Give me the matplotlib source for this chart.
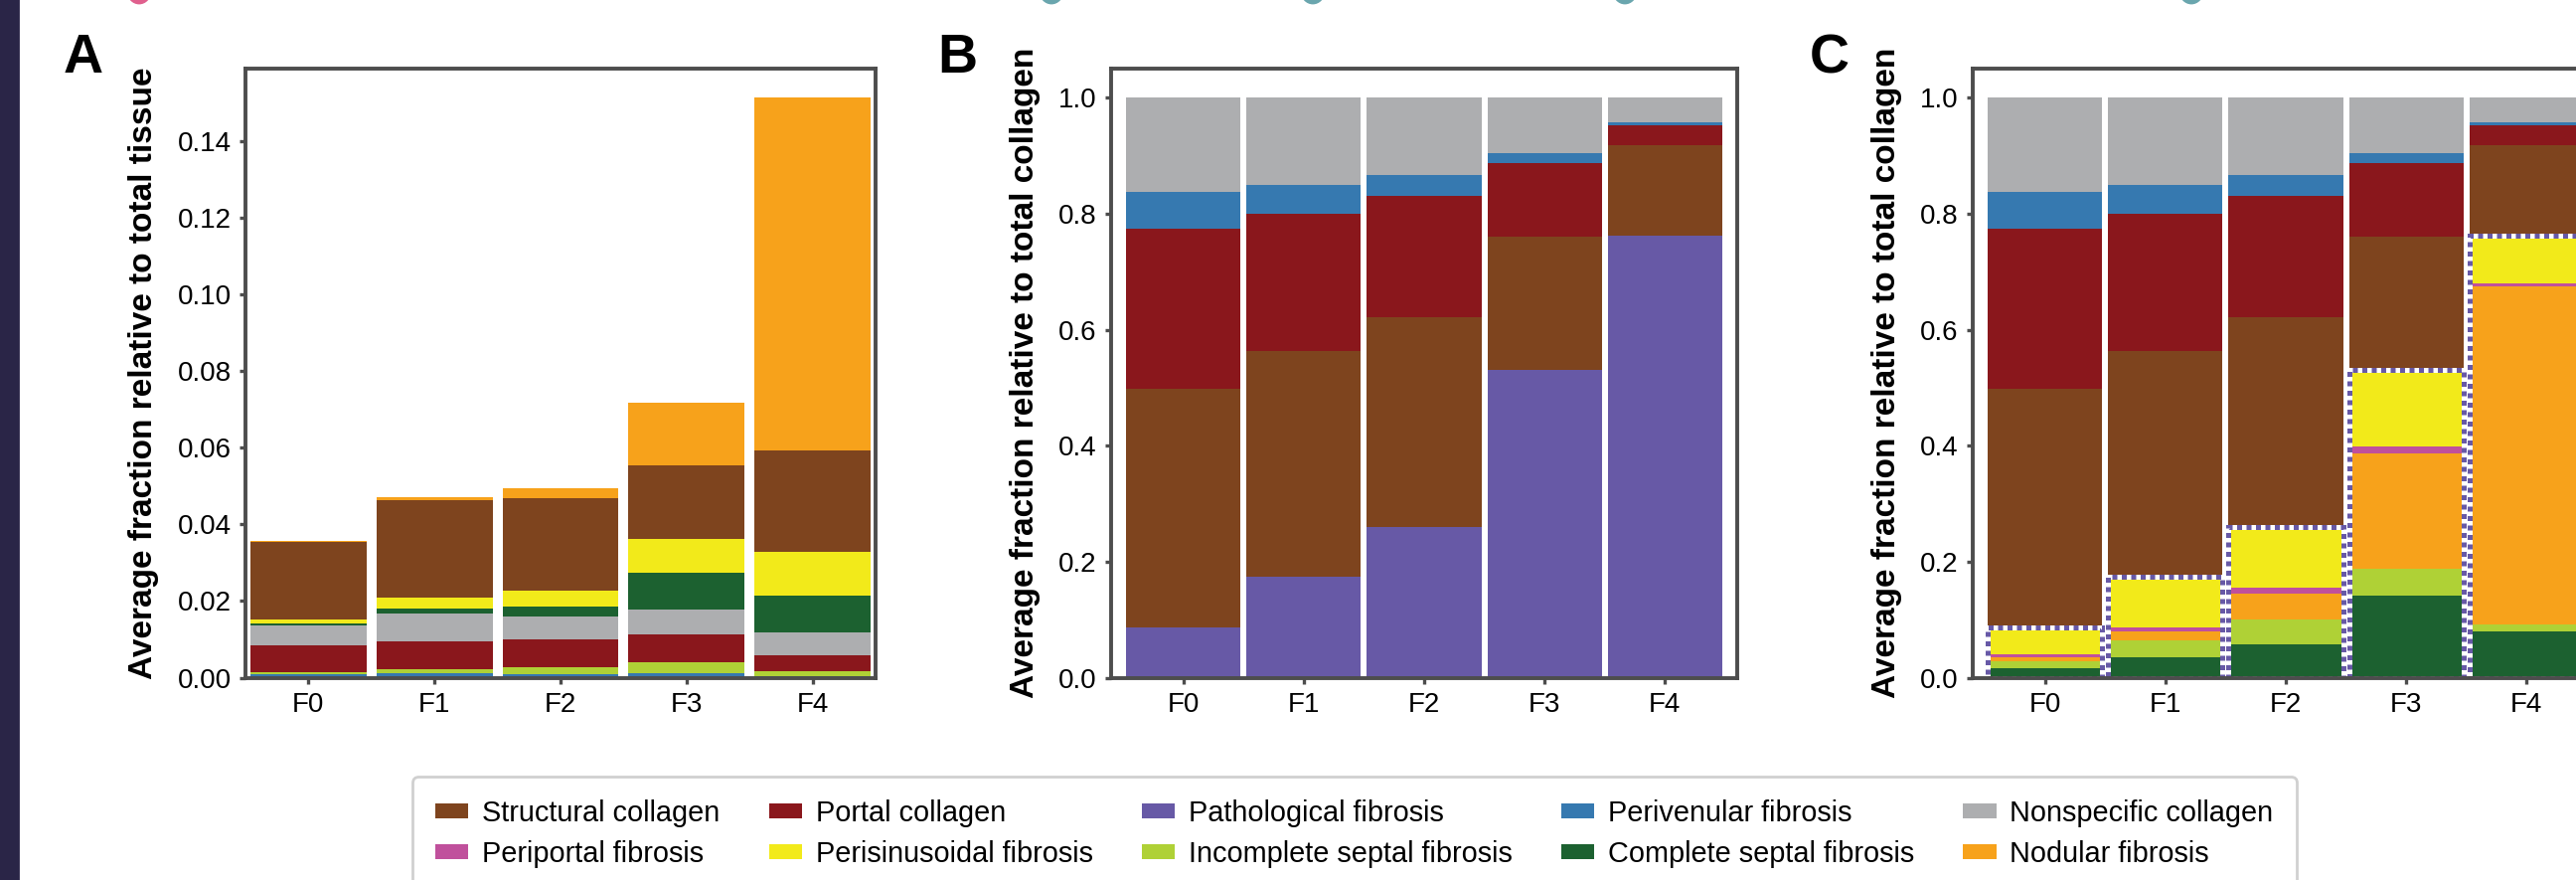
import numpy as np
import matplotlib
matplotlib.use('Agg')
import matplotlib.pyplot as plt
from matplotlib.patches import Patch, Rectangle, Ellipse
from matplotlib.ticker import FormatStrFormatter

plt.rcParams['font.family'] = ['Liberation Sans', 'DejaVu Sans']

# 数据
stages = ['F0', 'F1', 'F2', 'F3', 'F4']

# A: fraction of total tissue (segment heights, bottom to top)
a_perivenular = [0.0009, 0.0011, 0.0010, 0.0011, 0.0004]
a_incomplete = [0.0004, 0.0011, 0.0018, 0.0028, 0.0014]
a_portal = [0.0071, 0.0072, 0.0073, 0.0075, 0.0040]
a_nonspecific = [0.0052, 0.0074, 0.0059, 0.0065, 0.0059]
a_complete = [0.0005, 0.0013, 0.0026, 0.0095, 0.0096]
a_perisinusoidal = [0.0010, 0.0029, 0.0040, 0.0088, 0.0115]
a_structural = [0.0203, 0.0254, 0.0243, 0.0192, 0.0265]
a_nodular = [0.0004, 0.0006, 0.0026, 0.0165, 0.0922]

# B: fraction of total collagen
b_pathological = [0.087, 0.174, 0.259, 0.530, 0.762]
b_structural = [0.411, 0.389, 0.363, 0.230, 0.156]
b_portal = [0.276, 0.237, 0.209, 0.128, 0.035]
b_perivenular = [0.063, 0.050, 0.036, 0.017, 0.004]
b_nonspecific = [0.163, 0.150, 0.133, 0.095, 0.043]

# C: pathological fibrosis split up
c_complete = [0.017, 0.035, 0.058, 0.141, 0.080]
c_incomplete = [0.011, 0.030, 0.043, 0.046, 0.011]
c_nodular = [0.008, 0.015, 0.044, 0.200, 0.583]
c_periportal = [0.004, 0.007, 0.010, 0.012, 0.006]
c_perisinusoidal = [0.047, 0.087, 0.104, 0.131, 0.082]

colors = {
    'Structural collagen': '#7e441e',
    'Portal collagen': '#8a171c',
    'Pathological fibrosis': '#6759a6',
    'Perivenular fibrosis': '#3679b0',
    'Nonspecific collagen': '#adaeb0',
    'Periportal fibrosis': '#c0509c',
    'Perisinusoidal fibrosis': '#f2ea1a',
    'Incomplete septal fibrosis': '#afd136',
    'Complete septal fibrosis': '#1c6130',
    'Nodular fibrosis': '#f7a21b',
}

W, H = 2592, 885
fig = plt.figure(figsize=(W / 200, H / 200), dpi=200)

spine_col = '#4d4d4d'


def stack(ax, segs, width, bottom=None):
    x = np.arange(len(stages))
    if bottom is None:
        bottom = np.zeros(len(stages))
    bottom = np.array(bottom, dtype=float)
    for vals, name in segs:
        ax.bar(x, vals, width, bottom=bottom, color=colors[name], linewidth=0)
        bottom = bottom + np.array(vals)
    return bottom


def style(ax, ylabel, fmt):
    for s in ax.spines.values():
        s.set_color(spine_col)
        s.set_linewidth(1.4)
    ax.tick_params(axis='both', direction='out', length=2.2, width=1.2,
                   color=spine_col, labelsize=10, pad=3)
    ax.set_xticks(range(len(stages)))
    ax.set_xticklabels(stages)
    ax.yaxis.set_major_formatter(FormatStrFormatter(fmt))
    ax.set_ylabel(ylabel, fontsize=12, fontweight='bold', labelpad=6.5)


bottom_y = 1 - 681.5 / H
height = 612.5 / H
axA = fig.add_axes([247 / W, bottom_y, 634 / W, height])
axB = fig.add_axes([1118 / W, bottom_y, 630 / W, height])
axC = fig.add_axes([1985 / W, bottom_y, 630 / W, height])

# A
stack(axA, [(a_perivenular, 'Perivenular fibrosis'),
            (a_incomplete, 'Incomplete septal fibrosis'),
            (a_portal, 'Portal collagen'),
            (a_nonspecific, 'Nonspecific collagen'),
            (a_complete, 'Complete septal fibrosis'),
            (a_perisinusoidal, 'Perisinusoidal fibrosis'),
            (a_structural, 'Structural collagen'),
            (a_nodular, 'Nodular fibrosis')], 0.92)
axA.set_xlim(-0.5, 4.5)
axA.set_ylim(0, 0.159)
axA.set_yticks(np.arange(0, 0.141, 0.02))
style(axA, 'Average fraction relative to total tissue', '%.2f')

# B
stack(axB, [(b_pathological, 'Pathological fibrosis'),
            (b_structural, 'Structural collagen'),
            (b_portal, 'Portal collagen'),
            (b_perivenular, 'Perivenular fibrosis'),
            (b_nonspecific, 'Nonspecific collagen')], 0.95)
axB.set_xlim(-0.6, 4.6)
axB.set_ylim(0, 1.05)
axB.set_yticks(np.arange(0, 1.01, 0.2))
style(axB, 'Average fraction relative to total collagen', '%.1f')

# C
patho = stack(axC, [(c_complete, 'Complete septal fibrosis'),
                    (c_incomplete, 'Incomplete septal fibrosis'),
                    (c_nodular, 'Nodular fibrosis'),
                    (c_periportal, 'Periportal fibrosis'),
                    (c_perisinusoidal, 'Perisinusoidal fibrosis')], 0.95)
stack(axC, [(b_structural, 'Structural collagen'),
            (b_portal, 'Portal collagen'),
            (b_perivenular, 'Perivenular fibrosis'),
            (b_nonspecific, 'Nonspecific collagen')], 0.95, bottom=patho)
xs = np.arange(len(stages))
axC.bar(xs, patho, 0.95, fill=False, edgecolor='white', linewidth=1.8)
axC.bar(xs, patho, 0.95, fill=False, edgecolor=colors['Pathological fibrosis'],
        linewidth=1.8, linestyle=(0, (1, 0.9)))
axC.set_xlim(-0.6, 4.6)
axC.set_ylim(0, 1.05)
axC.set_yticks(np.arange(0, 1.01, 0.2))
style(axC, 'Average fraction relative to total collagen', '%.1f')

# panel letters
for lab, xp in [('A', 64), ('B', 943), ('C', 1821)]:
    fig.text(xp / W, 1 - 73 / H, lab, fontsize=20, fontweight='bold',
             ha='left', va='baseline')

# legend
order = ['Structural collagen', 'Periportal fibrosis',
         'Portal collagen', 'Perisinusoidal fibrosis',
         'Pathological fibrosis', 'Incomplete septal fibrosis',
         'Perivenular fibrosis', 'Complete septal fibrosis',
         'Nonspecific collagen', 'Nodular fibrosis']
handles = [Patch(facecolor=colors[n], edgecolor='none', label=n) for n in order]
leg = fig.legend(handles=handles, ncol=5, loc='upper left',
                 bbox_to_anchor=(415 / W, 1 - 781 / H), borderaxespad=0,
                 fontsize=10.4, handlelength=1.15, handleheight=0.42,
                 handletextpad=0.48, columnspacing=1.7, labelspacing=0.45,
                 borderpad=0.8, fancybox=True, framealpha=1)
leg.get_frame().set_edgecolor('#d0d0d0')
leg.get_frame().set_linewidth(1.0)

# edge of the surrounding page
fig.patches.append(Rectangle((0, 0), 18 / W, 1, transform=fig.transFigure,
                             color='#2a2547', zorder=5))
for xp, col in [(140, '#e0608e'), (1058, '#6aa6ae'), (1321, '#6aa6ae'),
                (1635, '#6aa6ae'), (2205, '#6aa6ae')]:
    fig.patches.append(Ellipse((xp / W, 1 + 9 / H), 22 / W, 24 / H,
                               transform=fig.transFigure, color=col))

plt.savefig('out.png', dpi=200)
